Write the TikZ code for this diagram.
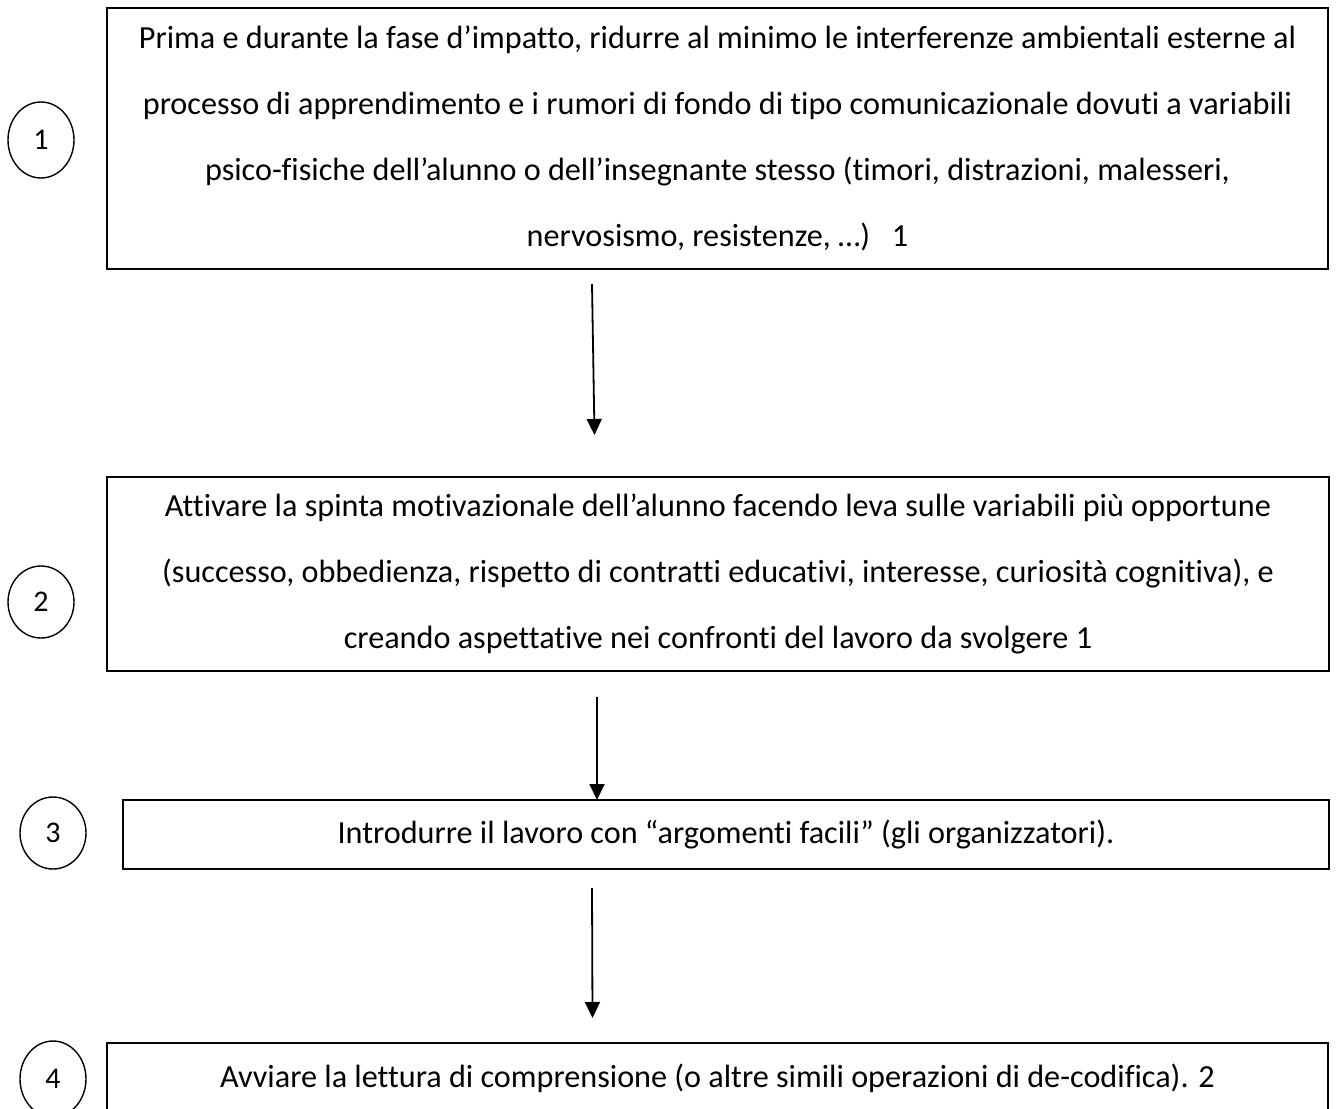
\documentclass[tikz,border=0pt]{standalone}
\usepackage{fontspec}
\setmainfont[Ligatures=NoCommon]{Carlito}
\usetikzlibrary{shapes.geometric,arrows.meta}
\begin{document}
\begin{tikzpicture}[x=1pt,y=-1pt,
  box/.style={draw,line width=1.6pt,inner sep=0pt,align=center,
    font=\fontsize{32.2}{66}\selectfont},
  num/.style={draw,ellipse,line width=1.4pt,inner sep=0pt,
    font=\fontsize{30}{32}\selectfont},
  arr/.style={line width=1.8pt,-{Triangle[width=15pt,length=16pt]}}]
\useasboundingbox (0,0) rectangle (1338,1108);
\node[box,minimum width=1221pt,minimum height=261pt] (b1) at (717.5,138.5)
 {Prima e durante la fase d’impatto, ridurre al minimo le interferenze ambientali esterne al\\
  processo di apprendimento e i rumori di fondo di tipo comunicazionale dovuti a variabili\\
  psico-fisiche dell’alunno o dell’insegnante stesso (timori, distrazioni, malesseri,\\
  nervosismo, resistenze, …)~~~1};
\node[box,minimum width=1222pt,minimum height=194pt] (b2) at (718,574)
 {Attivare la spinta motivazionale dell’alunno facendo leva sulle variabili più opportune\\
  (successo, obbedienza, rispetto di contratti educativi, interesse, curiosità cognitiva), e\\
  creando aspettative nei confronti del lavoro da svolgere 1};
\node[box,minimum width=1206pt,minimum height=69pt] (b3) at (726,834.5)
 {Introdurre il lavoro con “argomenti facili” (gli organizzatori).};
\node[box,minimum width=1221pt,minimum height=70pt] (b4) at (717.5,1078)
 {Avviare la lettura di comprensione (o altre simili operazioni di de-codifica). 2};
\node[num,minimum width=66pt,minimum height=76pt] (c1) at (41,140) {1};
\node[num,minimum width=66pt,minimum height=72pt] (c2) at (41,602) {2};
\node[num,minimum width=66pt,minimum height=72pt] (c3) at (53,833) {3};
\node[num,minimum width=66pt,minimum height=76pt] (c4) at (53,1079) {4};
\coordinate (a1s) at (592,284);
\coordinate (a1e) at (594.5,435);
\coordinate (a2s) at (597,697);
\coordinate (a2e) at (597,800);
\coordinate (a3s) at (592,888);
\coordinate (a3e) at (592.5,1018);
\draw[arr] (a1s) -- (a1e);
\draw[arr] (a2s) -- (a2e);
\draw[arr] (a3s) -- (a3e);
\end{tikzpicture}
\end{document}
